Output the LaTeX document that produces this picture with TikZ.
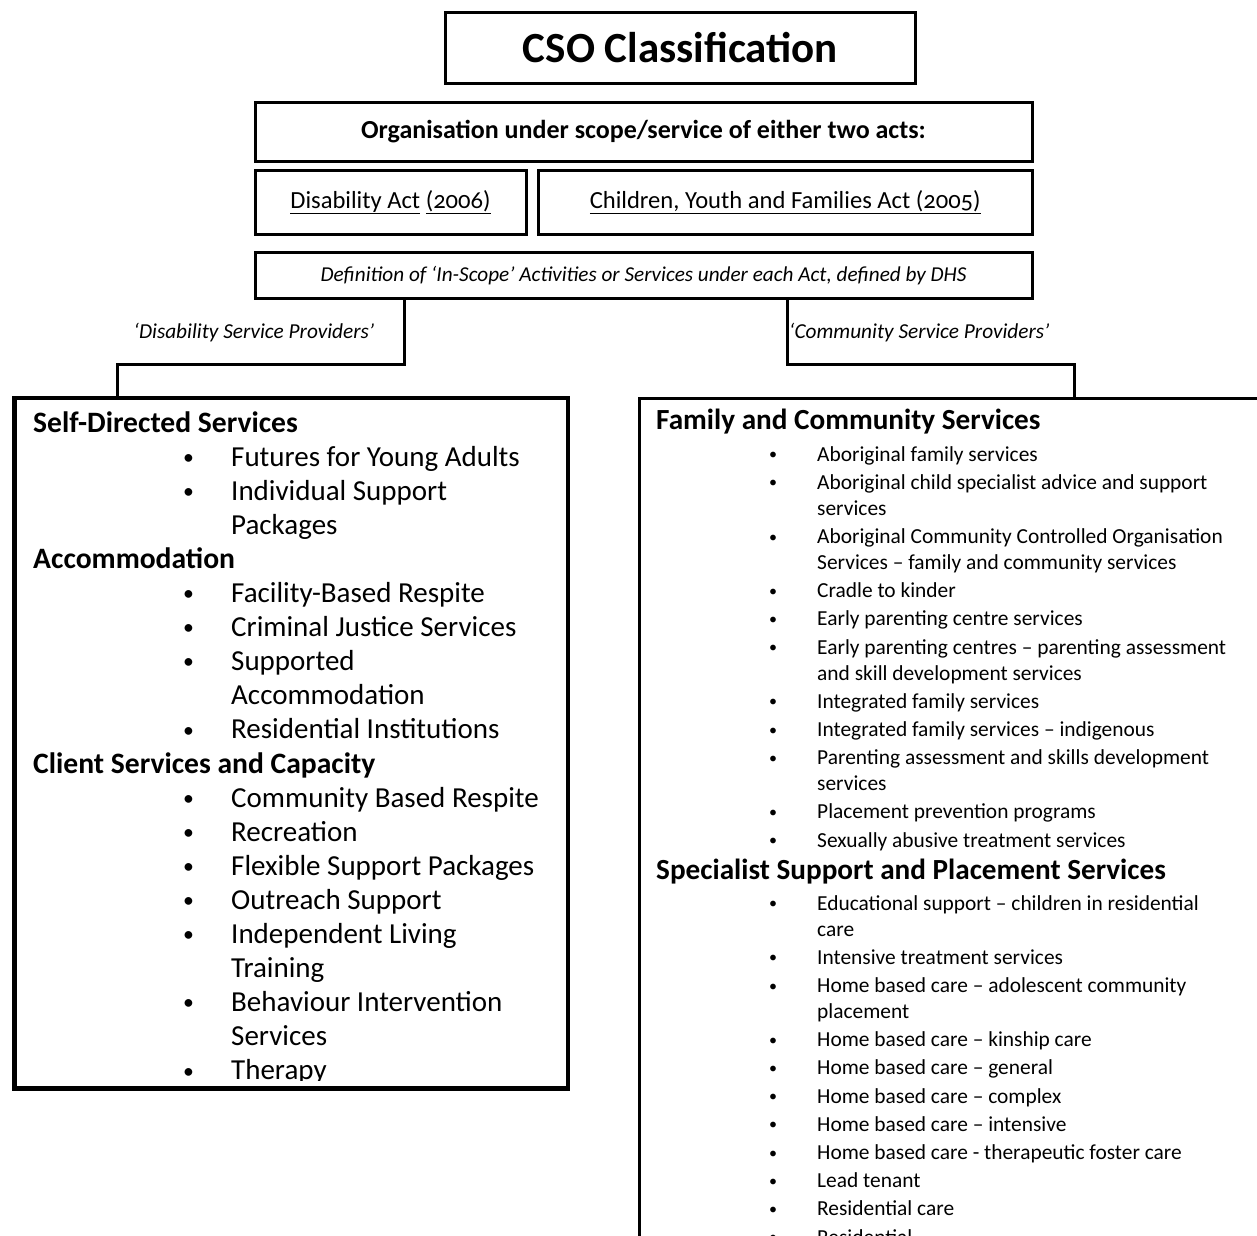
\documentclass[tikz,border=0pt]{standalone}
\usepackage{fontspec}
\setmainfont{Carlito}[Numbers=OldStyle]
\usepackage{array}
\usepackage{graphicx}
\usetikzlibrary{positioning}

% list rows
\newcommand{\bdot}{\raisebox{0.06em}{\scalebox{0.75}{\textbullet}}}
\newcommand{\hd}[1]{\multicolumn{3}{@{}l@{}}{\fontsize{29.6}{34.1}\selectfont\bfseries #1}\\}
\newcommand{\blt}[1]{& \bdot & #1\\}
\newcommand{\cnt}[1]{& & #1\\}
\newcommand{\bl}[1]{\bdot & #1\\[2.2pt]}
\newcommand{\blw}[2]{\bdot & #1\\ & #2\\[2.2pt]}

\begin{document}
\begin{tikzpicture}[x=1pt, y=-1pt,
  box/.style={draw, line width=3pt, anchor=north west, inner sep=0pt, align=center},
  link/.style={line width=3pt},
  tag/.style={font=\fontsize{21.3}{25}\selectfont\itshape, inner sep=0pt},
  head/.style={anchor=base west, inner sep=0pt, font=\fontsize{29.2}{34}\selectfont\bfseries},
  list/.style={anchor=base west, inner sep=0pt, align=left}
]
  \clip (0,0) rectangle (1257,1235);

  % top boxes
  \node[box, minimum width=470pt, minimum height=71pt, font=\fontsize{43}{50}\selectfont\bfseries] (title) at (444,10.5) {CSO Classification};
  \node[box, minimum width=777pt, minimum height=59pt, font=\fontsize{26}{30}\selectfont\bfseries] (scope) at (253.5,100.5) {Organisation under scope/service of either two acts:};
  \node[box, minimum width=271pt, minimum height=63.5pt, font=\fontsize{24.6}{28}\selectfont] (disact) at (253.5,169) {\underline{Disability Act} \underline{(2006)}};
  \node[box, minimum width=493.5pt, minimum height=63.5pt, font=\fontsize{24.6}{28}\selectfont] (cyfact) at (537,169) {\underline{Children, Youth and Families Act (2005)}};
  \node[box, minimum width=777pt, minimum height=46.5pt, font=\fontsize{21.2}{26}\selectfont\itshape] (inscope) at (253.5,250.5) {Definition of ‘In-Scope’ Activities or Services under each Act, defined by DHS};

  % branch labels
  \node[tag] (dsp) at (254,333) {‘Disability Service Providers’};
  \node[tag, anchor=west] (csp) at (789,333) {‘Community Service Providers’};

  % provider boxes
  \node[box, minimum width=552pt, minimum height=689pt] (disbox) at (13.5,397) {};
  \node[box, minimum width=700pt, minimum height=900pt] (cspbox) at (637.5,397) {};

  % connectors
  \coordinate (lknee) at (404,364);
  \coordinate (rknee) at (787,364);
  \draw[link] (inscope.south -| lknee) -- (lknee) -| ([xshift=103.5pt]disbox.north west);
  \draw[link] (inscope.south -| rknee) -- (rknee) -| ([xshift=436.5pt]cspbox.north west);

  % disability services
  \begin{scope}
    \clip (disbox.north west) rectangle ([yshift=9pt]disbox.south east);
    \node[list, font=\fontsize{29}{34.1}\selectfont] (dislist) at (33,432) {%
      \begin{tabular}[t]{@{}p{150pt}@{}p{48pt}@{}l@{}}
        \hd{Self-Directed Services}
        \blt{Futures for Young Adults}
        \blt{Individual Support}
        \cnt{Packages}
        \hd{Accommodation}
        \blt{Facility-Based Respite}
        \blt{Criminal Justice Services}
        \blt{Supported}
        \cnt{Accommodation}
        \blt{Residential Institutions}
        \hd{Client Services and Capacity}
        \blt{Community Based Respite}
        \blt{Recreation}
        \blt{Flexible Support Packages}
        \blt{Outreach Support}
        \blt{Independent Living}
        \cnt{Training}
        \blt{Behaviour Intervention}
        \cnt{Services}
        \blt{Therapy}
      \end{tabular}};
  \end{scope}
  \draw[line width=3pt] (disbox.north west) rectangle (disbox.south east);

  % community services
  \node[head] (famhead) at (656,429) {Family and Community Services};
  \node[list, font=\fontsize{21.4}{26}\selectfont] (famlist) at (769,461) {%
    \begin{tabular}[t]{@{}p{48pt}@{}l@{}}
      \bl{Aboriginal family services}
      \blw{Aboriginal child specialist advice and support}{services}
      \blw{Aboriginal Community Controlled Organisation}{Services – family and community services}
      \bl{Cradle to kinder}
      \bl{Early parenting centre services}
      \blw{Early parenting centres – parenting assessment}{and skill development services}
      \bl{Integrated family services}
      \bl{Integrated family services – indigenous}
      \blw{Parenting assessment and skills development}{services}
      \bl{Placement prevention programs}
      \bl{Sexually abusive treatment services}
    \end{tabular}};
  \node[head] (sphead) at (656,879) {Specialist Support and Placement Services};
  \node[list, font=\fontsize{21.4}{26}\selectfont] (splist) at (769,910) {%
    \begin{tabular}[t]{@{}p{48pt}@{}l@{}}
      \blw{Educational support – children in residential}{care}
      \bl{Intensive treatment services}
      \blw{Home based care – adolescent community}{placement}
      \bl{Home based care – kinship care}
      \bl{Home based care – general}
      \bl{Home based care – complex}
      \bl{Home based care – intensive}
      \bl{Home based care - therapeutic foster care}
      \bl{Lead tenant}
      \bl{Residential care}
      \bl{Residential}
    \end{tabular}};
\end{tikzpicture}
\end{document}
